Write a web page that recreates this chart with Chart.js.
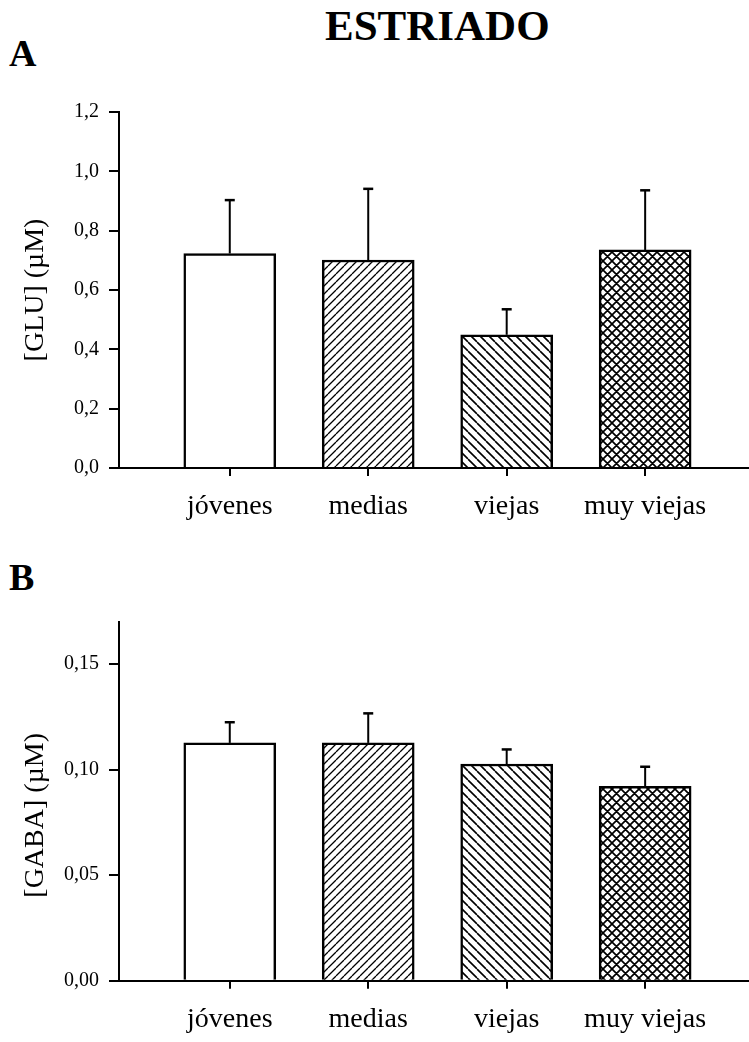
<!DOCTYPE html>
<html>
<head>
<meta charset="utf-8">
<script src="https://cdn.jsdelivr.net/npm/chart.js@4.4.1/dist/chart.umd.min.js"></script>
<style>
body { margin: 0; background: #fff; }
#pagina { position: relative; width: 749px; height: 1042px; overflow: hidden; font-family: 'Liberation Serif', 'Times New Roman', serif; }
.letra { position: absolute; font-weight: bold; line-height: 1; white-space: nowrap; color: #000; }
canvas { position: absolute; left: 0; }
</style>
</head>
<body>
<div id="pagina">
  <div class="letra" style="left:325px; top:4px; font-size:43px;">ESTRIADO</div>
  <div class="letra" style="left:9px; top:34px; font-size:38px;">A</div>
  <div class="letra" style="left:9px; top:558px; font-size:38px;">B</div>
  <canvas id="graficaGlu" width="749" height="450" style="top:90px; width:749px; height:450px;"></canvas>
  <canvas id="graficaGaba" width="749" height="442" style="top:600px; width:749px; height:442px;"></canvas>
</div>
<script>
// datos
var grupos = ["jóvenes", "medias", "viejas", "muy viejas"];
var gluMedia = [0.723, 0.701, 0.449, 0.735];
var gluError = [0.180, 0.240, 0.086, 0.201];
var gabaMedia = [0.1127, 0.1127, 0.1027, 0.0921];
var gabaError = [0.0098, 0.0140, 0.0069, 0.0093];
var ticksGlu = [0, 0.2, 0.4, 0.6, 0.8, 1.0, 1.2];
var ticksGaba = [0, 0.05, 0.10, 0.15];

var fuente = "'Liberation Serif', 'Times New Roman', serif";

function rayado(tam, tipo, grosor){
    var c = document.createElement('canvas');
    c.width = tam; c.height = tam;
    var g = c.getContext('2d');
    g.fillStyle = '#fff';
    g.fillRect(0, 0, tam, tam);
    g.strokeStyle = '#000';
    g.lineWidth = grosor;
    g.beginPath();
    for (var k = -1; k <= 1; k++) {
        if (tipo === '/' || tipo === 'x') {
            g.moveTo(k * tam, tam); g.lineTo(k * tam + tam, 0);
        }
        if (tipo === '\\' || tipo === 'x') {
            g.moveTo(k * tam, 0); g.lineTo(k * tam + tam, tam);
        }
    }
    g.stroke();
    return g.createPattern(c, 'repeat');
}

var rellenos = ['#ffffff', rayado(8, '/', 1.3), rayado(9, '\\', 1.6), rayado(9, 'x', 1.7)];

function barrasError(media, error){
    return {
        id: 'barrasError',
        afterDatasetsDraw: function(chart){
            var ctx = chart.ctx;
            var meta = chart.getDatasetMeta(0);
            var y = chart.scales.y;
            ctx.save();
            ctx.strokeStyle = '#000';
            meta.data.forEach(function(barra, i){
                var tope = y.getPixelForValue(media[i] + error[i]);
                ctx.lineWidth = 2;
                ctx.beginPath();
                ctx.moveTo(barra.x, barra.y);
                ctx.lineTo(barra.x, tope);
                ctx.stroke();
                ctx.lineWidth = 2.5;
                ctx.beginPath();
                ctx.moveTo(barra.x - 5, tope);
                ctx.lineTo(barra.x + 5, tope);
                ctx.stroke();
            });
            ctx.restore();
        }
    };
}

function graficar(id, media, error, marcas, decimales, maximo, tituloY, margenArriba, altoX){
    new Chart(id, {
        type: 'bar',
        data: {
            datasets: [{
                data: media.map(function(v, i){ return {x: i, y: v}; }),
                backgroundColor: rellenos,
                borderColor: '#000',
                borderWidth: 2.5,
                barThickness: 92
            }]
        },
        options: {
            responsive: false,
            animation: false,
            layout: { padding: { top: margenArriba, left: 0, right: 0, bottom: 0 } },
            plugins: {
                legend: { display: false },
                tooltip: { enabled: false }
            },
            scales: {
                x: {
                    type: 'linear',
                    offset: false,
                    min: -0.8,
                    max: 3.75,
                    afterBuildTicks: function(s){ s.ticks = grupos.map(function(g, i){ return {value: i}; }); },
                    afterFit: function(s){ s.height = altoX; },
                    grid: { offset: false, drawOnChartArea: false, drawTicks: true, tickLength: 8, color: '#000', lineWidth: 2 },
                    border: { display: true, color: '#000', width: 2 },
                    ticks: {
                        callback: function(v){ return grupos[v]; },
                        color: '#000',
                        font: { family: fuente, size: 28 },
                        padding: 14,
                        maxRotation: 0,
                        autoSkip: false
                    }
                },
                y: {
                    min: 0,
                    max: maximo,
                    afterBuildTicks: function(s){ s.ticks = marcas.map(function(v){ return {value: v}; }); },
                    afterFit: function(s){ s.width = 119; },
                    grid: { drawOnChartArea: false, drawTicks: true, tickLength: 10, color: '#000', lineWidth: 2 },
                    border: { display: true, color: '#000', width: 2 },
                    ticks: {
                        callback: function(v){ return v.toFixed(decimales).replace('.', ','); },
                        color: '#000',
                        font: { family: fuente, size: 20 },
                        padding: 10
                    },
                    title: {
                        display: true,
                        text: tituloY,
                        color: '#000',
                        font: { family: fuente, size: 28 },
                        padding: { top: 19, bottom: 0 }
                    }
                }
            }
        },
        plugins: [barrasError(media, error)]
    });
}

graficar('graficaGlu', gluMedia, gluError, ticksGlu, 1, 1.2, '[GLU] (µM)', 14, 72);
graficar('graficaGaba', gabaMedia, gabaError, ticksGaba, 2, 0.17, '[GABA] (µM)    ', 15, 61.3);
</script>
</body>
</html>
